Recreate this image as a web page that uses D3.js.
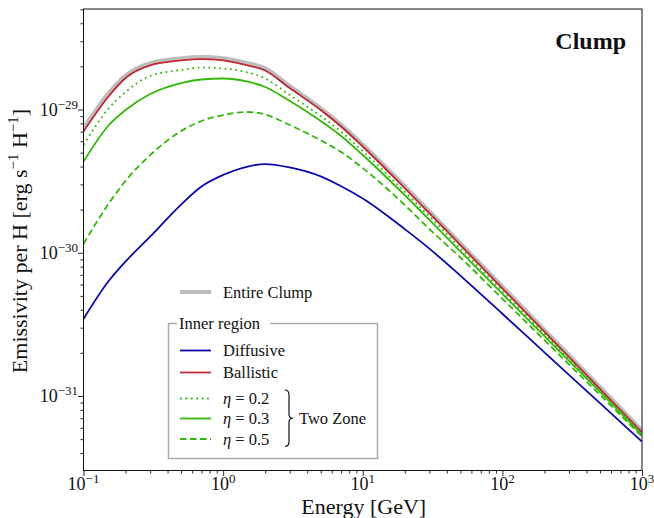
<!DOCTYPE html>
<html>
<head>
<meta charset="utf-8">
<script src="https://cdn.jsdelivr.net/npm/d3@7"></script>
<style>
  html, body { margin: 0; padding: 0; background: #fff; }
  svg { display: block; }
  text { font-family: "Liberation Serif", "DejaVu Serif", serif; fill: #111; }
</style>
</head>
<body>
<svg id="chart" width="654" height="518"></svg>
<script>
// ---- data ----
const energy = [0.1, 0.15, 0.2, 0.3, 0.5, 0.7, 1, 1.5, 2, 3, 5, 7, 10, 20, 30, 50, 100, 200, 500, 1000];
const entireClump = [7.35e-30, 1.28e-29, 1.72e-29, 2.10e-29, 2.27e-29, 2.32e-29, 2.27e-29, 2.10e-29, 1.93e-29, 1.45e-29, 1.017e-29, 7.8e-30, 5.66e-30, 2.9e-30, 1.94e-30, 1.16e-30, 5.79e-31, 2.88e-31, 1.148e-31, 5.72e-32];
const diffusive = [3.45e-31, 6.27e-31, 8.68e-31, 1.296e-30, 2.17e-30, 2.90e-30, 3.49e-30, 4.00e-30, 4.16e-30, 3.94e-30, 3.41e-30, 2.91e-30, 2.39e-30, 1.462e-30, 1.069e-30, 6.93e-31, 3.75e-31, 2.018e-31, 8.91e-32, 4.80e-32];
const ballistic = [7.02e-30, 1.222e-29, 1.66e-29, 2.035e-29, 2.20e-29, 2.25e-29, 2.20e-29, 2.035e-29, 1.873e-29, 1.413e-29, 9.92e-30, 7.61e-30, 5.52e-30, 2.83e-30, 1.894e-30, 1.133e-30, 5.65e-31, 2.815e-31, 1.121e-31, 5.59e-32];
const eta02 = [5.65e-30, 1.008e-29, 1.325e-29, 1.713e-29, 1.887e-29, 1.964e-29, 1.933e-29, 1.812e-29, 1.646e-29, 1.262e-29, 9.01e-30, 7.0e-30, 5.12e-30, 2.66e-30, 1.794e-30, 1.076e-30, 5.40e-31, 2.71e-31, 1.085e-31, 5.45e-32];
const eta03 = [4.32e-30, 7.67e-30, 9.92e-30, 1.283e-29, 1.531e-29, 1.620e-29, 1.646e-29, 1.563e-29, 1.436e-29, 1.146e-29, 8.31e-30, 6.53e-30, 4.81e-30, 2.52e-30, 1.698e-30, 1.023e-30, 5.17e-31, 2.62e-31, 1.068e-31, 5.37e-32];
const eta05 = [1.151e-30, 2.17e-30, 3.18e-30, 4.80e-30, 7.08e-30, 8.31e-30, 9.15e-30, 9.61e-30, 9.23e-30, 7.79e-30, 6.10e-30, 5.05e-30, 3.90e-30, 2.155e-30, 1.465e-30, 9.27e-31, 4.77e-31, 2.455e-31, 1.018e-31, 5.22e-32];

const xMajor = [0.1, 1, 10, 100, 1000];
const xMajorExp = ["−1", "0", "1", "2", "3"];
const yMajor = [1e-31, 1e-30, 1e-29];
const yMajorExp = ["−31", "−30", "−29"];

const seriesNames = ["Entire Clump", "Diffusive", "Ballistic", "η = 0.2", "η = 0.3", "η = 0.5"];

// ---- layout ----
const L = 83.5, R = 642, T = 9, B = 470.5;
const svg = d3.select("#chart");

const x = d3.scaleLog().domain([0.1, 1000]).range([L, R]);
const y = d3.scaleLog().domain([Math.pow(10, -31.520), Math.pow(10, -28.2984)]).range([B, T]);

const COL = { gray: "#bdbdbd", blue: "#0a0aa8", red: "#c22a33", green: "#33b80a" };

const styles = [
  { data: entireClump, color: COL.gray, width: 4.5, dash: null },
  { data: diffusive, color: COL.blue, width: 1.8, dash: null },
  { data: ballistic, color: COL.red, width: 1.8, dash: null },
  { data: eta02, color: COL.green, width: 1.8, dash: "1.8,3.6" },
  { data: eta03, color: COL.green, width: 1.8, dash: null },
  { data: eta05, color: COL.green, width: 1.8, dash: "6.5,3.5" }
];

// clip
svg.append("defs").append("clipPath").attr("id", "clip")
  .append("rect").attr("x", L).attr("y", T).attr("width", R - L).attr("height", B - T);

const line = d3.line()
  .x((d, i) => x(energy[i]))
  .y(d => y(d))
  .curve(d3.curveMonotoneX);

const g = svg.append("g").attr("clip-path", "url(#clip)");
styles.forEach(s => {
  g.append("path")
    .attr("d", line(s.data))
    .attr("fill", "none")
    .attr("stroke", s.color)
    .attr("stroke-width", s.width)
    .attr("stroke-dasharray", s.dash)
    .attr("stroke-linejoin", "round");
});

// frame
svg.append("rect").attr("x", L).attr("y", T).attr("width", R - L).attr("height", B - T)
  .attr("fill", "none").attr("stroke", "#111").attr("stroke-width", 1);

// minor ticks
function minorTicks(lo, hi) {
  const out = [];
  for (let e = Math.floor(Math.log10(lo)); e <= Math.ceil(Math.log10(hi)); e++) {
    for (let m = 2; m <= 9; m++) {
      const v = m * Math.pow(10, e);
      if (v > lo && v < hi) out.push(v);
    }
  }
  return out;
}

const xAxisMinor = d3.axisBottom(x).tickValues(minorTicks(0.1, 1000)).tickSize(3).tickFormat("");
const xAxisMajor = d3.axisBottom(x).tickValues(xMajor).tickSize(5.5).tickFormat("");
const yAxisMinor = d3.axisLeft(y).tickValues(minorTicks(y.domain()[0], y.domain()[1])).tickSize(3).tickFormat("");
const yAxisMajor = d3.axisLeft(y).tickValues(yMajor).tickSize(5.5).tickFormat("");

[xAxisMinor, xAxisMajor].forEach(a => {
  const ag = svg.append("g").attr("transform", `translate(0,${B})`).call(a);
  ag.select(".domain").remove();
  ag.selectAll("line").attr("stroke", "#111").attr("stroke-width", 0.9);
});
[yAxisMinor, yAxisMajor].forEach(a => {
  const ag = svg.append("g").attr("transform", `translate(${L},0)`).call(a);
  ag.select(".domain").remove();
  ag.selectAll("line").attr("stroke", "#111").attr("stroke-width", 0.9);
});

// tick labels
xMajor.forEach((v, i) => {
  const t = svg.append("text").attr("x", x(v)).attr("y", 490).attr("text-anchor", "middle")
    .attr("font-size", 18);
  t.append("tspan").text("10");
  t.append("tspan").attr("dy", -7).attr("font-size", 13).text(xMajorExp[i]);
});
yMajor.forEach((v, i) => {
  const t = svg.append("text").attr("x", 78).attr("y", y(v) + 6).attr("text-anchor", "end")
    .attr("font-size", 18);
  t.append("tspan").text("10");
  t.append("tspan").attr("dy", -7).attr("font-size", 13).text(yMajorExp[i]);
});

// axis titles
svg.append("text").attr("x", (L + R) / 2 + 1).attr("y", 514).attr("text-anchor", "middle")
  .attr("font-size", 22).text("Energy [GeV]");

const yl = svg.append("text")
  .attr("transform", `translate(27,241) rotate(-90)`)
  .attr("text-anchor", "middle").attr("font-size", 22);
yl.append("tspan").text("Emissivity per H [erg s");
yl.append("tspan").attr("dy", -9).attr("font-size", 15).text("−1");
yl.append("tspan").attr("dy", 9).text(" H");
yl.append("tspan").attr("dy", -9).attr("font-size", 15).text("−1");
yl.append("tspan").attr("dy", 9).text("]");

// panel title
svg.append("text").attr("x", 626).attr("y", 49).attr("text-anchor", "end")
  .attr("font-size", 24).attr("font-weight", "bold").text("Clump");

// ---- legend ----
const lg = svg.append("g");
function legLine(yy, s) {
  lg.append("line").attr("x1", 180).attr("x2", 211).attr("y1", yy).attr("y2", yy)
    .attr("stroke", s.color).attr("stroke-width", s.width === 4.5 ? 4 : 1.8)
    .attr("stroke-dasharray", s.dash);
}
function legText(yy, txt, italicFirst) {
  const t = lg.append("text").attr("x", 223).attr("y", yy + 5.5).attr("font-size", 16.5);
  if (italicFirst) {
    t.append("tspan").attr("font-style", "italic").text("η");
    t.append("tspan").text(txt.slice(1));
  } else t.text(txt);
}
// Entire clump
legLine(292, styles[0]); legText(292, seriesNames[0]);

// inner region box
const bx0 = 168.5, by0 = 323.5, bx1 = 377.5, by1 = 458.5;
lg.append("path")
  .attr("d", `M${177},${by0} H${bx0} V${by1} H${bx1} V${by0} H${270}`)
  .attr("fill", "none").attr("stroke", "#aaa").attr("stroke-width", 1.5);
lg.append("text").attr("x", 179).attr("y", by0 + 5.5).attr("font-size", 16.5).text("Inner region");

const rows = [350.5, 372.5, 398.5, 418.5, 439];
[1, 2, 3, 4, 5].forEach((k, i) => {
  legLine(rows[i], styles[k]);
  legText(rows[i], seriesNames[k], k >= 3);
});

// brace
const bxr = 285, byt = 390, byb = 446.5, bym = (byt + byb) / 2;
lg.append("path")
  .attr("d", `M${bxr},${byt} Q${bxr + 4},${byt} ${bxr + 4},${byt + 5} V${bym - 4} Q${bxr + 4},${bym} ${bxr + 8},${bym}
              Q${bxr + 4},${bym} ${bxr + 4},${bym + 4} V${byb - 5} Q${bxr + 4},${byb} ${bxr},${byb}`)
  .attr("fill", "none").attr("stroke", "#111").attr("stroke-width", 1.2);
lg.append("text").attr("x", 299).attr("y", bym + 5.5).attr("font-size", 16.5).text("Two Zone");
</script>
</body>
</html>
